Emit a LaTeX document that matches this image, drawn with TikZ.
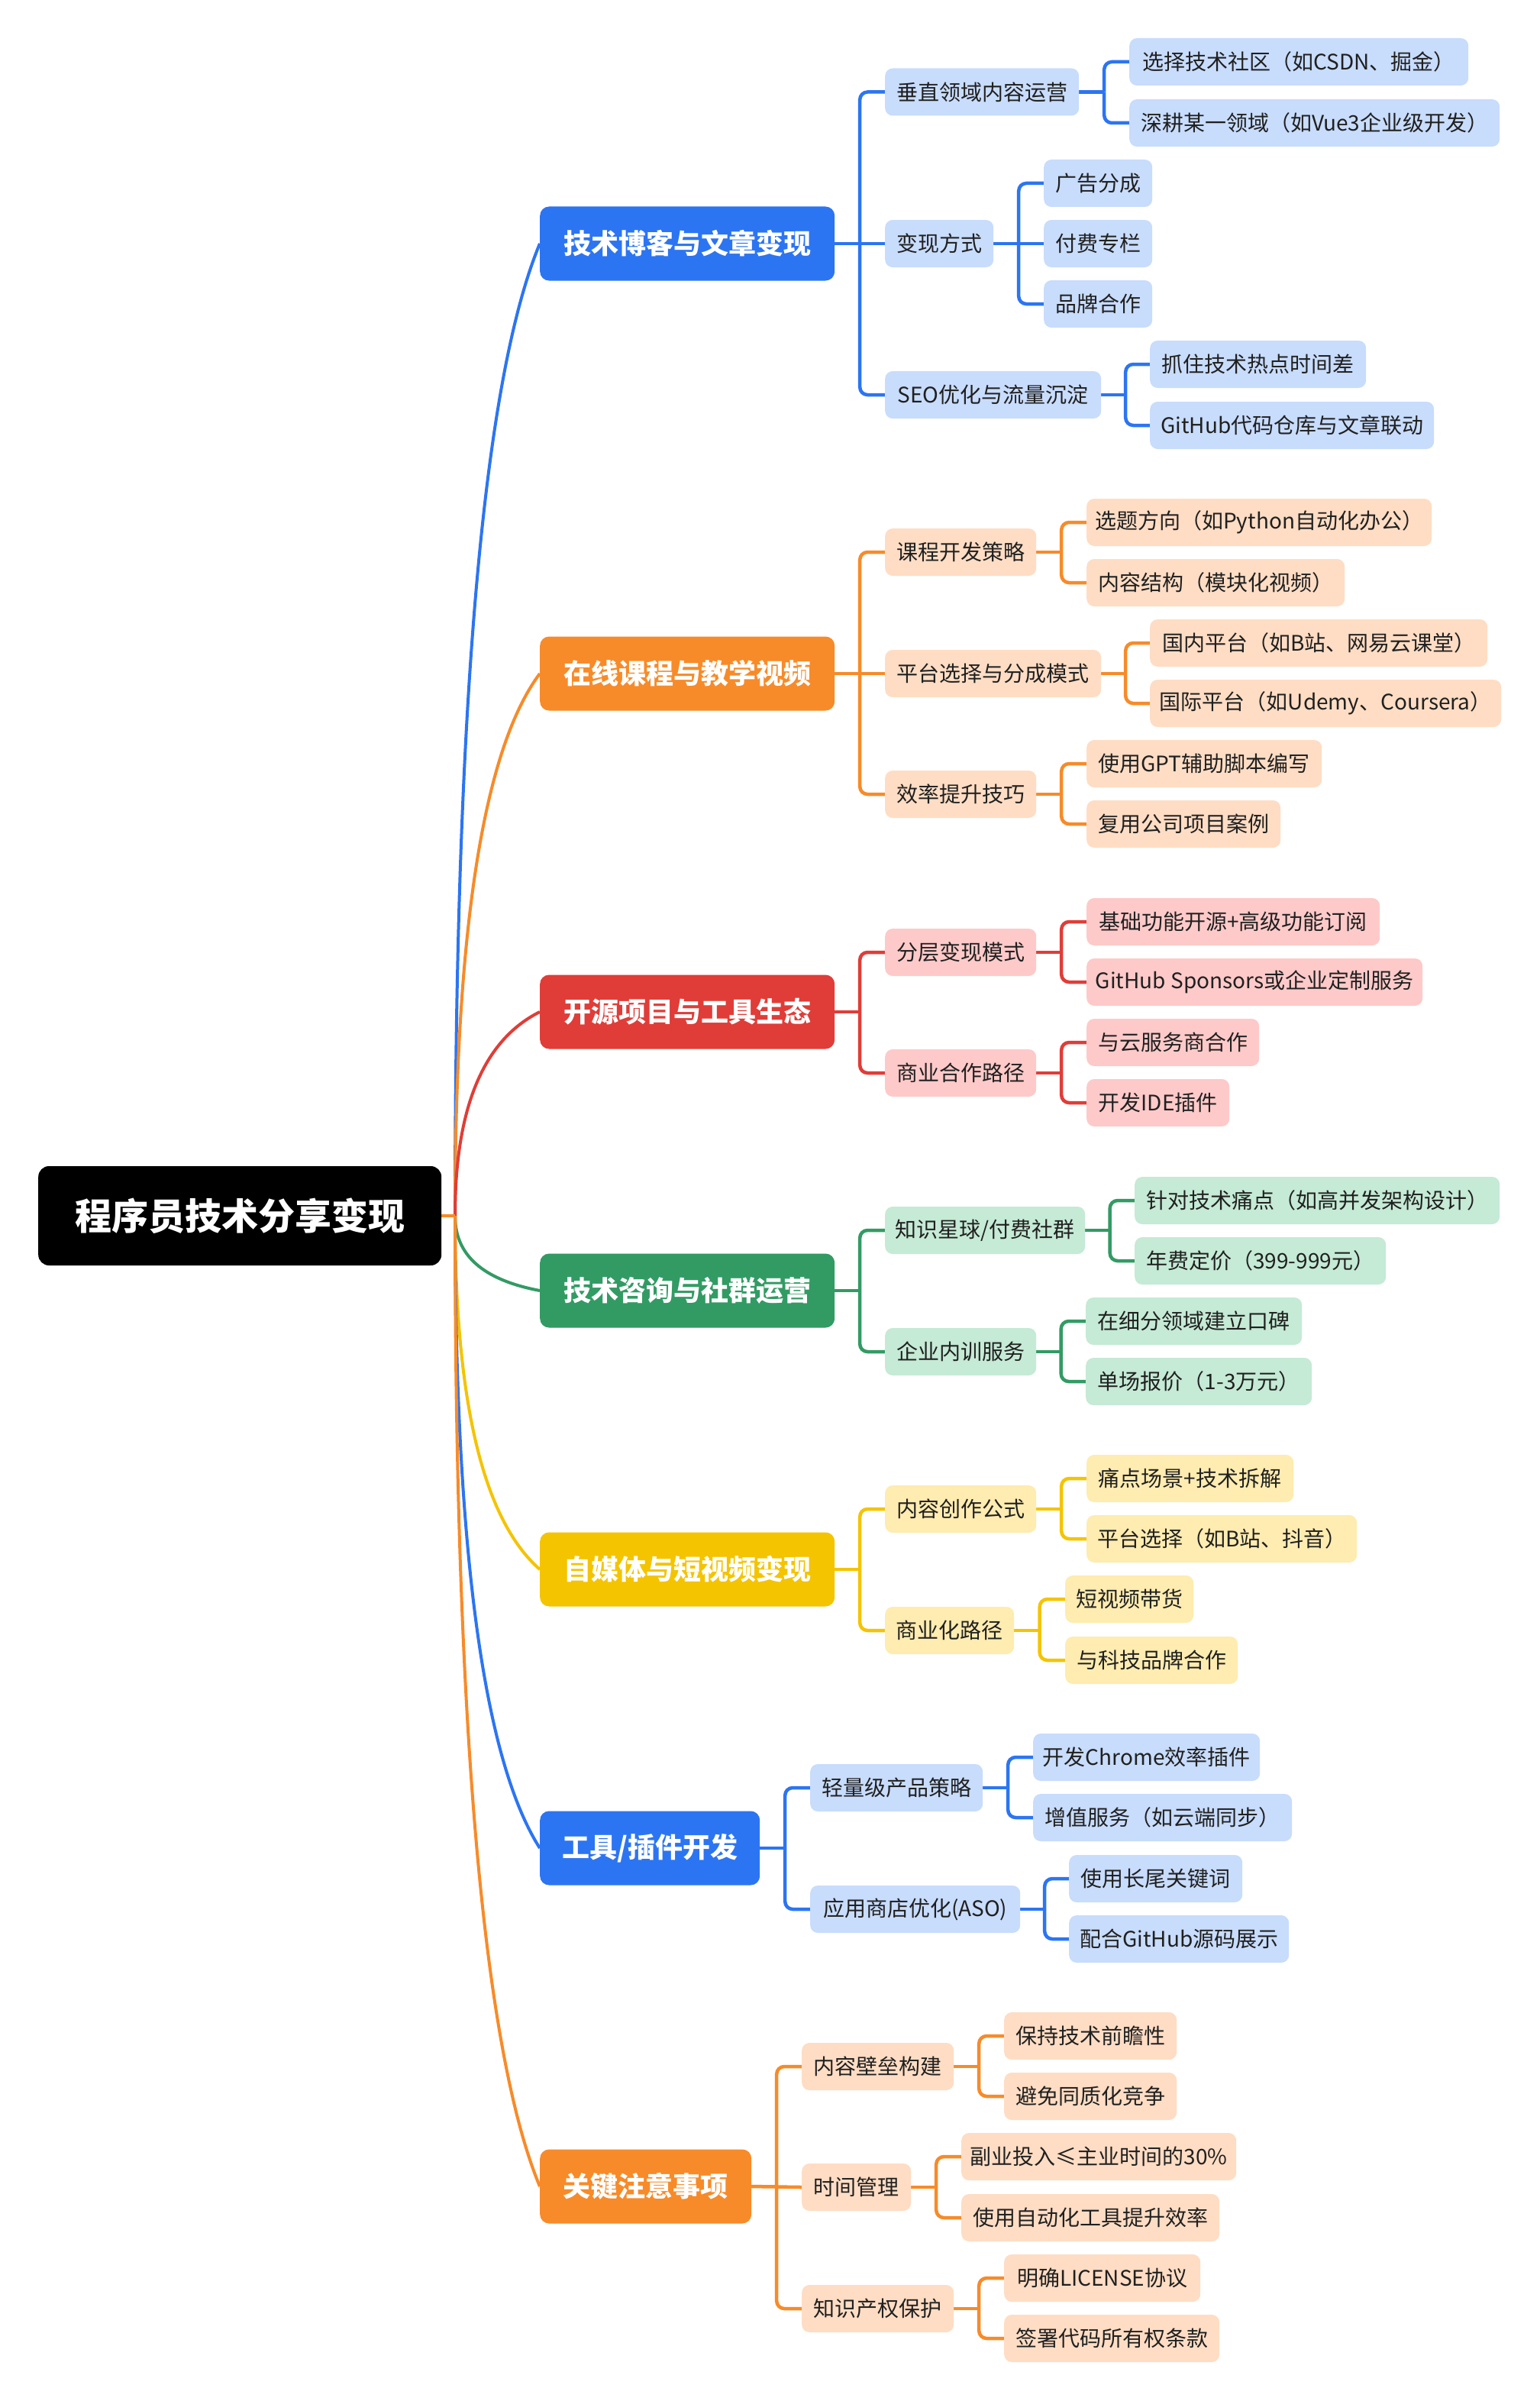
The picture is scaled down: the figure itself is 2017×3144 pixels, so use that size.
\documentclass[tikz,border=0pt]{standalone}
\usepackage{fontspec}
\setmainfont{Noto Sans CJK SC}
\usetikzlibrary{calc}
\definecolor{cBlue}{RGB}{44,117,242}
\definecolor{lBlue}{RGB}{200,220,252}
\definecolor{cOrange}{RGB}{247,139,41}
\definecolor{lOrange}{RGB}{254,221,196}
\definecolor{cRed}{RGB}{224,61,56}
\definecolor{lRed}{RGB}{253,202,201}
\definecolor{cGreen}{RGB}{50,155,100}
\definecolor{lGreen}{RGB}{197,234,213}
\definecolor{cYellow}{RGB}{244,196,0}
\definecolor{lYellow}{RGB}{254,236,176}
\definecolor{txt}{RGB}{32,32,32}
\pgfdeclarelayer{back}\pgfdeclarelayer{bg}\pgfsetlayers{back,bg,main}
\tikzset{
  rootbox/.style={fill=black, text=white, font=\fontsize{48}{56}\selectfont\bfseries, rounded corners=14, minimum height=130, inner sep=0, anchor=west},
  topic/.style={fill=#1, text=white, font=\fontsize{36}{42}\selectfont\bfseries, rounded corners=12, minimum height=97, inner sep=0, anchor=west},
  leaf/.style={fill=#1, text=txt, font=\fontsize{28}{32}\selectfont, rounded corners=10, minimum height=62, inner sep=0, anchor=west},
  branchline/.style={draw=#1, line width=4.5},
  mainline/.style={draw=#1, line width=4},
}
\newcommand\link[3]{%
  \coordinate (m) at ($(#2.east)!.5!(#3.west)$);
  \draw[branchline=#1] (#2.east) -- (m |- #2.east);
  \draw[branchline=#1, rounded corners=10] (m |- #2.east) |- (#3.west);
}
\newcommand\linkstraight[3]{\draw[branchline=#1] (#2.east) -- (#3.west);}
\begin{document}
\begin{tikzpicture}[x=1pt,y=-1pt]
\useasboundingbox (0,0) rectangle (2017,3144);
\begin{pgfonlayer}{back}
\fill[white] (0,0) rectangle (2017,3144);
\end{pgfonlayer}

% root
\node[rootbox, minimum width=528] (root) at (50,1592) {程序员技术分享变现};
\coordinate (hub) at (596,1592);

% level 1
\node[topic=cBlue,   minimum width=386] (B1) at (707,319)  {技术博客与文章变现};
\node[topic=cOrange, minimum width=386] (B2) at (707,882)  {在线课程与教学视频};
\node[topic=cRed,    minimum width=386] (B3) at (707,1325) {开源项目与工具生态};
\node[topic=cGreen,  minimum width=386] (B4) at (707,1690) {技术咨询与社群运营};
\node[topic=cYellow, minimum width=386] (B5) at (707,2055) {自媒体与短视频变现};
\node[topic=cBlue,   minimum width=288] (B6) at (707,2420) {工具/插件开发};
\node[topic=cOrange, minimum width=277] (B7) at (707,2863) {关键注意事项};

% group 1
\node[leaf=lBlue, minimum width=254] (a1)  at (1159,120.5) {垂直领域内容运营};
\node[leaf=lBlue, minimum width=444] (a11) at (1479,81)  {选择技术社区（如CSDN、掘金）};
\node[leaf=lBlue, minimum width=485] (a12) at (1479,161) {深耕某一领域（如Vue3企业级开发）};
\node[leaf=lBlue, minimum width=142] (a2)  at (1159,319) {变现方式};
\node[leaf=lBlue, minimum width=142] (a21) at (1367,240) {广告分成};
\node[leaf=lBlue, minimum width=142] (a22) at (1367,319) {付费专栏};
\node[leaf=lBlue, minimum width=142] (a23) at (1367,398) {品牌合作};
\node[leaf=lBlue, minimum width=283] (a3)  at (1159,517) {SEO优化与流量沉淀};
\node[leaf=lBlue, minimum width=283] (a31) at (1506,477) {抓住技术热点时间差};
\node[leaf=lBlue, minimum width=372] (a32) at (1506,557) {GitHub代码仓库与文章联动};

% group 2
\node[leaf=lOrange, minimum width=198] (b1)  at (1159,723) {课程开发策略};
\node[leaf=lOrange, minimum width=452] (b11) at (1423,684) {选题方向（如Python自动化办公）};
\node[leaf=lOrange, minimum width=338] (b12) at (1423,763) {内容结构（模块化视频）};
\node[leaf=lOrange, minimum width=283] (b2)  at (1159,882) {平台选择与分成模式};
\node[leaf=lOrange, minimum width=442] (b21) at (1506,842) {国内平台（如B站、网易云课堂）};
\node[leaf=lOrange, minimum width=460] (b22) at (1506,921) {国际平台（如Udemy、Coursera）};
\node[leaf=lOrange, minimum width=198] (b3)  at (1159,1040) {效率提升技巧};
\node[leaf=lOrange, minimum width=308] (b31) at (1423,1000) {使用GPT辅助脚本编写};
\node[leaf=lOrange, minimum width=254] (b32) at (1423,1079) {复用公司项目案例};

% group 3
\node[leaf=lRed, minimum width=198] (c1)  at (1159,1247) {分层变现模式};
\node[leaf=lRed, minimum width=384] (c11) at (1423,1207) {基础功能开源+高级功能订阅};
\node[leaf=lRed, minimum width=440] (c12) at (1423,1286) {GitHub Sponsors或企业定制服务};
\node[leaf=lRed, minimum width=198] (c2)  at (1159,1405) {商业合作路径};
\node[leaf=lRed, minimum width=226] (c21) at (1423,1365) {与云服务商合作};
\node[leaf=lRed, minimum width=187] (c22) at (1423,1444) {开发IDE插件};

% group 4
\node[leaf=lGreen, minimum width=262] (d1)  at (1159,1611) {知识星球/付费社群};
\node[leaf=lGreen, minimum width=478] (d11) at (1486,1572) {针对技术痛点（如高并发架构设计）};
\node[leaf=lGreen, minimum width=329] (d12) at (1486,1651) {年费定价（399-999元）};
\node[leaf=lGreen, minimum width=198] (d2)  at (1159,1770) {企业内训服务};
\node[leaf=lGreen, minimum width=283] (d21) at (1422,1730) {在细分领域建立口碑};
\node[leaf=lGreen, minimum width=296] (d22) at (1422,1809) {单场报价（1-3万元）};

% group 5
\node[leaf=lYellow, minimum width=198] (e1)  at (1159,1976) {内容创作公式};
\node[leaf=lYellow, minimum width=271] (e11) at (1423,1936) {痛点场景+技术拆解};
\node[leaf=lYellow, minimum width=354] (e12) at (1423,2015) {平台选择（如B站、抖音）};
\node[leaf=lYellow, minimum width=169] (e2)  at (1159,2135) {商业化路径};
\node[leaf=lYellow, minimum width=168] (e21) at (1395,2094) {短视频带货};
\node[leaf=lYellow, minimum width=226] (e22) at (1395,2174) {与科技品牌合作};

% group 6
\node[leaf=lBlue, minimum width=226] (f1)  at (1061,2341) {轻量级产品策略};
\node[leaf=lBlue, minimum width=297] (f11) at (1353,2301) {开发Chrome效率插件};
\node[leaf=lBlue, minimum width=339] (f12) at (1353,2380) {增值服务（如云端同步）};
\node[leaf=lBlue, minimum width=275] (f2)  at (1061,2500) {应用商店优化(ASO)};
\node[leaf=lBlue, minimum width=227] (f21) at (1400,2460) {使用长尾关键词};
\node[leaf=lBlue, minimum width=288] (f22) at (1400,2539) {配合GitHub源码展示};

% group 7
\node[leaf=lOrange, minimum width=199] (g1)  at (1050,2706) {内容壁垒构建};
\node[leaf=lOrange, minimum width=226] (g11) at (1315,2666) {保持技术前瞻性};
\node[leaf=lOrange, minimum width=226] (g12) at (1315,2745) {避免同质化竞争};
\node[leaf=lOrange, minimum width=143] (g2)  at (1050,2864) {时间管理};
\node[leaf=lOrange, minimum width=360] (g21) at (1259,2824) {副业投入≤主业时间的30\%};
\node[leaf=lOrange, minimum width=338] (g22) at (1259,2904) {使用自动化工具提升效率};
\node[leaf=lOrange, minimum width=199] (g3)  at (1050,3023) {知识产权保护};
\node[leaf=lOrange, minimum width=257] (g31) at (1315,2983) {明确LICENSE协议};
\node[leaf=lOrange, minimum width=282] (g32) at (1315,3062) {签署代码所有权条款};

\begin{pgfonlayer}{bg}
% main curves
\draw[mainline=cBlue]   (hub) .. controls (596,921)  and (633,497)  .. (B1.west);
\draw[mainline=cOrange] (hub) .. controls (596,1218) and (633,981)  .. (B2.west);
\draw[mainline=cRed]    (hub) .. controls (596,1451) and (633,1362) .. (B3.west);
\draw[mainline=cGreen]  (hub) .. controls (596,1644) and (633,1676) .. (B4.west);
\draw[mainline=cYellow] (hub) .. controls (596,1836) and (633,1990) .. (B5.west);
\draw[mainline=cBlue]   (hub) .. controls (596,2028) and (633,2304) .. (B6.west);
\draw[mainline=cOrange] (hub) .. controls (596,2262) and (633,2685) .. (B7.west);
\draw[mainline=cOrange] (root.east) -- (hub);

% group 1
\link{cBlue}{B1}{a1}\linkstraight{cBlue}{B1}{a2}\link{cBlue}{B1}{a3}
\link{cBlue}{a1}{a11}\link{cBlue}{a1}{a12}
\link{cBlue}{a2}{a21}\linkstraight{cBlue}{a2}{a22}\link{cBlue}{a2}{a23}
\link{cBlue}{a3}{a31}\link{cBlue}{a3}{a32}
% group 2
\link{cOrange}{B2}{b1}\linkstraight{cOrange}{B2}{b2}\link{cOrange}{B2}{b3}
\link{cOrange}{b1}{b11}\link{cOrange}{b1}{b12}
\link{cOrange}{b2}{b21}\link{cOrange}{b2}{b22}
\link{cOrange}{b3}{b31}\link{cOrange}{b3}{b32}
% group 3
\link{cRed}{B3}{c1}\link{cRed}{B3}{c2}
\link{cRed}{c1}{c11}\link{cRed}{c1}{c12}
\link{cRed}{c2}{c21}\link{cRed}{c2}{c22}
% group 4
\link{cGreen}{B4}{d1}\link{cGreen}{B4}{d2}
\link{cGreen}{d1}{d11}\link{cGreen}{d1}{d12}
\link{cGreen}{d2}{d21}\link{cGreen}{d2}{d22}
% group 5
\link{cYellow}{B5}{e1}\link{cYellow}{B5}{e2}
\link{cYellow}{e1}{e11}\link{cYellow}{e1}{e12}
\link{cYellow}{e2}{e21}\link{cYellow}{e2}{e22}
% group 6
\link{cBlue}{B6}{f1}\link{cBlue}{B6}{f2}
\link{cBlue}{f1}{f11}\link{cBlue}{f1}{f12}
\link{cBlue}{f2}{f21}\link{cBlue}{f2}{f22}
% group 7
\link{cOrange}{B7}{g1}\linkstraight{cOrange}{B7}{g2}\link{cOrange}{B7}{g3}
\link{cOrange}{g1}{g11}\link{cOrange}{g1}{g12}
\link{cOrange}{g2}{g21}\link{cOrange}{g2}{g22}
\link{cOrange}{g3}{g31}\link{cOrange}{g3}{g32}
\end{pgfonlayer}
\end{tikzpicture}
\end{document}
